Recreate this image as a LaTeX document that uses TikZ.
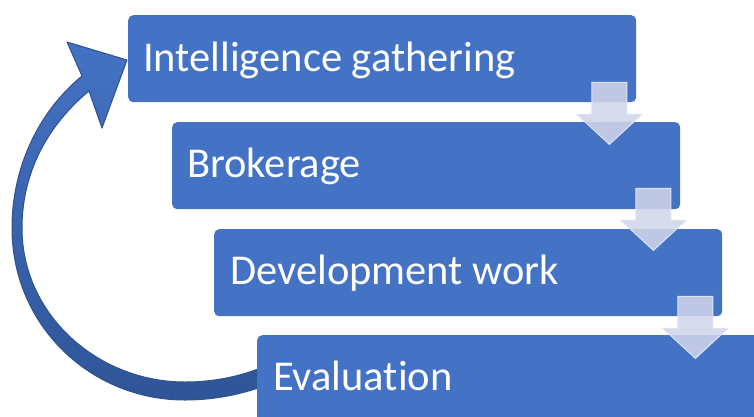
\documentclass[tikz,border=0pt]{standalone}
\usepackage{fontspec}
\setmainfont{Carlito}[Ligatures={NoCommon}]
\definecolor{boxblue}{RGB}{68,114,196}
\definecolor{darkblue}{RGB}{47,85,151}
\definecolor{edgeblue}{RGB}{47,82,143}
\definecolor{arrowfill}{RGB}{207,213,234}
\definecolor{arrowedge}{RGB}{222,227,243}
\tikzset{
  stepbox/.style={fill=boxblue, draw=none, rounded corners=5pt, inner sep=0pt,
    minimum width=508pt, minimum height=87pt, anchor=north west},
  lbl/.style={text=white, inner sep=0pt, anchor=base west,
    font=\fontsize{42.5}{50}\selectfont},
  downarrowstyle/.style={fill=arrowfill, fill opacity=0.88, draw=arrowedge, line width=1pt},
  darrow/.pic={\path[downarrowstyle] (-17.5,0) -- (17.5,0) -- (17.5,32) -- (32.5,32)
     -- (0,62) -- (-32.5,32) -- (-17.5,32) -- cycle;},
  loopstyle/.style={top color=boxblue, bottom color=darkblue, draw=edgeblue, line width=1pt, line join=round}
}
\begin{document}
\begin{tikzpicture}[x=1pt,y=-1pt]
\useasboundingbox (0,0) rectangle (754,416);
\clip (0,0) rectangle (754,416);
% curved return arrow
\path[loopstyle]
  (82,76) .. controls (38,112) and (12,168) .. (12,228)
  .. controls (12,325) and (90,400) .. (185,400)
  .. controls (215,400) and (242,394) .. (264,386)
  -- (258,369)
  .. controls (237,377) and (212,382) .. (185,382)
  .. controls (98,382) and (22,315) .. (22,228)
  .. controls (22,172) and (48,125) .. (89,91)
  -- (102,128) -- (127,60) -- (67,42) -- cycle;
% boxes
\node[stepbox] (b1) at (128,15) {};
\node[stepbox] (b2) at (172,122) {};
\node[stepbox] (b3) at (214,229) {};
\node[stepbox, minimum width=540pt, minimum height=120pt] (b4) at (257,335) {};
% labels
\node[lbl] (t1) at (143,71) {Intelligence gathering};
\node[lbl] (t2) at (187,177) {Brokerage};
\node[lbl] (t3) at (230,284) {Development work};
\node[lbl] (t4) at (273,390) {Evaluation};
% down arrows
\pic at ([shift={(-27,-20)}]b1.south east) {darrow};
\pic at ([shift={(-27,-21)}]b2.south east) {darrow};
\pic at ([shift={(-27,-20)}]b3.south east) {darrow};
\end{tikzpicture}
\end{document}
